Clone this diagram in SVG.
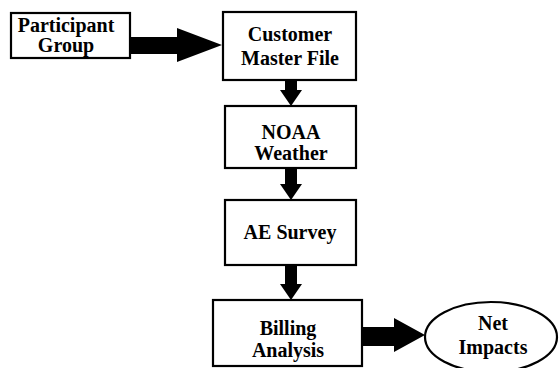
<svg xmlns="http://www.w3.org/2000/svg" width="560" height="368" viewBox="0 0 560 368">
  <style>
    .box { fill: #fff; stroke: #000; stroke-width: 2.2; }
    .lbl { font-family: 'Liberation Serif', 'DejaVu Serif', 'Times New Roman', Times, serif; font-size: 20px; font-weight: bold; text-anchor: middle; fill: #000; }
    .arrow { fill: #000; stroke: none; }
  </style>
  <rect width="560" height="368" fill="#fff"/>

  <!-- connectors: thick block arrows -->
  <g id="connectors">
    <!-- Participant Group -> Customer Master File -->
    <polygon class="arrow" points="130,37 177,37 177,28 222,45 177,62 177,54 130,54"/>
    <!-- Customer Master File -> NOAA Weather -->
    <polygon class="arrow" points="285,80 297,80 297,90 302,90 291,106 280,90 285,90"/>
    <!-- NOAA Weather -> AE Survey -->
    <polygon class="arrow" points="285,168 297,168 297,184 302,184 291,200 280,184 285,184"/>
    <!-- AE Survey -> Billing Analysis -->
    <polygon class="arrow" points="285,265 297,265 297,284 302,284 291,300 280,284 285,284"/>
    <!-- Billing Analysis -> Net Impacts -->
    <polygon class="arrow" points="362,327 394,327 394,318 425,335 394,352 394,346 362,346"/>
  </g>

  <g id="participant-group">
    <rect class="box" x="11" y="13" width="119" height="45"/>
    <text class="lbl" x="66" y="32">Participant</text>
    <text class="lbl" x="66" y="52">Group</text>
  </g>

  <g id="customer-master-file">
    <rect class="box" x="223" y="12" width="133" height="68"/>
    <text class="lbl" x="290" y="41">Customer</text>
    <text class="lbl" x="290" y="65">Master File</text>
  </g>

  <g id="noaa-weather">
    <rect class="box" x="225" y="106" width="131" height="62"/>
    <text class="lbl" x="291" y="139">NOAA</text>
    <text class="lbl" x="291" y="160">Weather</text>
  </g>

  <g id="ae-survey">
    <rect class="box" x="225" y="200" width="131" height="65"/>
    <text class="lbl" x="290" y="239">AE Survey</text>
  </g>

  <g id="billing-analysis">
    <rect class="box" x="213" y="300" width="149" height="66"/>
    <text class="lbl" x="288" y="335">Billing</text>
    <text class="lbl" x="288" y="357">Analysis</text>
  </g>

  <g id="net-impacts">
    <ellipse class="box" cx="491" cy="337" rx="66" ry="35"/>
    <text class="lbl" x="493" y="330">Net</text>
    <text class="lbl" x="493" y="354">Impacts</text>
  </g>
</svg>
